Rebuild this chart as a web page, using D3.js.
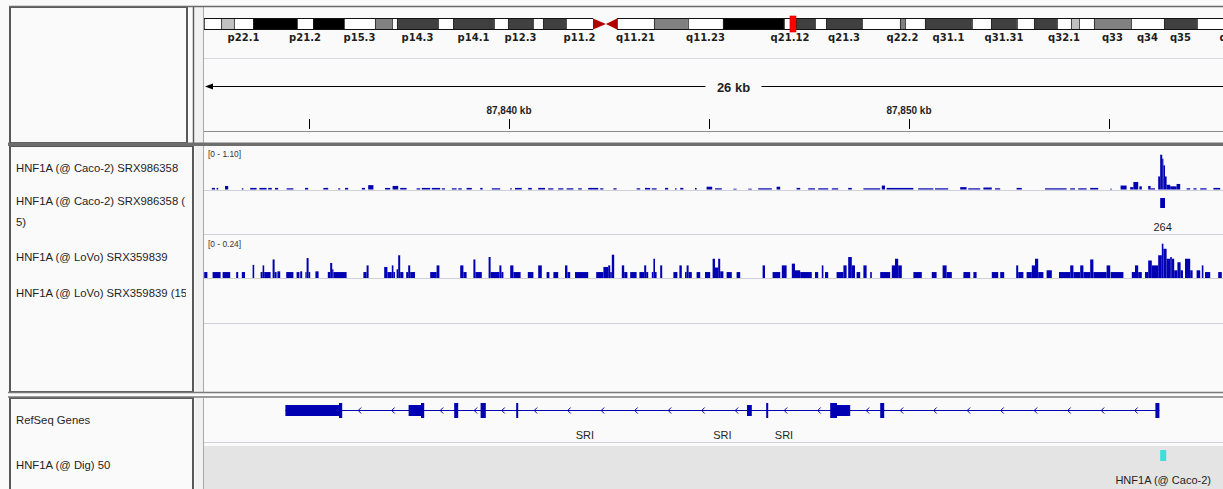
<!DOCTYPE html>
<html>
<head>
<meta charset="utf-8">
<title>SRI locus – HNF1A ChIP-seq</title>
<script src="https://cdn.jsdelivr.net/npm/d3@7/dist/d3.min.js"></script>
<style>
  html, body { margin: 0; padding: 0; background: #fafafa; }
  svg { display: block; }
  text { font-family: "Liberation Sans", Arial, Helvetica, sans-serif; fill: #1e1e1e; }
</style>
</head>
<body>
<svg id="igv" width="1223" height="489"></svg>
<script>
// ---------------------------------------------------------------- data
const chromosome = "chr7";
const chromLengthMb = 159.14;

// cytobands: name, start (Mb), end (Mb), stain
const cytobands = [
  ["p22.3", 0, 2.54, "gneg"], ["p22.2", 2.54, 4.47, "gpos25"], ["p22.1", 4.47, 7.31, "gneg"],
  ["p21.3", 7.31, 13.87, "gpos100"], ["p21.2", 13.87, 16.26, "gneg"], ["p21.1", 16.26, 20.88, "gpos100"],
  ["p15.3", 20.88, 25.50, "gneg"], ["p15.2", 25.50, 28.04, "gpos50"], ["p15.1", 28.04, 28.78, "gneg"],
  ["p14.3", 28.78, 34.90, "gpos75"], ["p14.2", 34.90, 37.14, "gneg"], ["p14.1", 37.14, 43.25, "gpos75"],
  ["p13", 43.25, 45.34, "gneg"], ["p12.3", 45.34, 49.07, "gpos75"], ["p12.2", 49.07, 50.56, "gneg"],
  ["p12.1", 50.56, 53.99, "gpos75"], ["p11.2", 53.99, 58.02, "gneg"], ["p11.1", 58.02, 59.95, "acen"],
  ["q11.1", 59.95, 61.60, "acen"], ["q11.21", 61.60, 67.11, "gneg"], ["q11.22", 67.11, 72.18, "gpos50"],
  ["q11.23", 72.18, 77.40, "gneg"], ["q21.11", 77.40, 86.50, "gpos100"], ["q21.12", 86.50, 88.29, "gneg"],
  ["q21.13", 88.29, 91.13, "gpos75"], ["q21.2", 91.13, 92.77, "gneg"], ["q21.3", 92.77, 98.14, "gpos75"],
  ["q22.1", 98.14, 103.80, "gneg"], ["q22.2", 103.80, 104.55, "gpos50"], ["q22.3", 104.55, 107.53, "gneg"],
  ["q31.1", 107.53, 114.54, "gpos75"], ["q31.2", 114.54, 117.38, "gneg"], ["q31.31", 117.38, 121.25, "gpos75"],
  ["q31.32", 121.25, 123.79, "gneg"], ["q31.33", 123.79, 127.22, "gpos75"], ["q32.1", 127.22, 129.31, "gneg"],
  ["q32.2", 129.31, 130.50, "gpos25"], ["q32.3", 130.50, 132.74, "gneg"], ["q33", 132.74, 138.26, "gpos50"],
  ["q34", 138.26, 143.18, "gneg"], ["q35", 143.18, 148.10, "gpos75"], ["q36.1", 148.10, 152.60, "gneg"],
  ["q36.2", 152.60, 155.10, "gpos25"], ["q36.3", 155.10, 159.14, "gneg"]
];
const bandLabels = ["p22.1", "p21.2", "p15.3", "p14.3", "p14.1", "p12.3", "p11.2", "q11.21", "q11.23",
  "q21.12", "q21.3", "q22.2", "q31.1", "q31.31", "q32.1", "q33", "q34", "q35", "q36.2"];

// visible locus (kb)
const viewStartKb = 87832.375;
const viewSpanKb = 26.675;
const rulerTicksKb = [87835, 87840, 87845, 87850, 87855];
const rulerLabelledKb = [87840, 87850];

// track names
const signalTrackNames = ["HNF1A (@ Caco-2) SRX986358", "HNF1A (@ LoVo) SRX359839"];
const peakTrackNames = [["HNF1A (@ Caco-2) SRX986358 (", "5)"], ["HNF1A (@ LoVo) SRX359839 (15)"]];
const signalMax = [1.10, 0.24];
const geneTrackNames = ["RefSeq Genes", "HNF1A (@ Dig) 50"];

// Caco-2 signal: start kb, end kb, value
const caco2Signal = [
  [87832.57, 87832.65, 0.04], [87832.69, 87832.73, 0.04], [87832.90, 87832.98, 0.09], [87833.32, 87833.36, 0.03],
  [87833.53, 87833.69, 0.04], [87833.76, 87833.94, 0.04], [87833.98, 87834.07, 0.04], [87834.15, 87834.23, 0.04],
  [87834.44, 87834.61, 0.03], [87834.90, 87834.98, 0.04], [87835.36, 87835.48, 0.04], [87835.73, 87835.78, 0.03],
  [87835.90, 87835.98, 0.04], [87836.32, 87836.40, 0.04], [87836.48, 87836.61, 0.11], [87836.90, 87837.03, 0.04],
  [87837.09, 87837.23, 0.09], [87837.28, 87837.44, 0.04], [87837.69, 87837.78, 0.03], [87837.82, 87838.03, 0.04],
  [87838.07, 87838.28, 0.04], [87838.32, 87838.40, 0.03], [87838.57, 87838.69, 0.03], [87838.73, 87838.82, 0.03],
  [87838.94, 87839.07, 0.04], [87839.28, 87839.34, 0.04], [87839.57, 87839.78, 0.03], [87840.03, 87840.07, 0.03],
  [87840.15, 87840.32, 0.04], [87840.48, 87840.57, 0.04], [87840.73, 87840.90, 0.04], [87840.98, 87841.11, 0.03],
  [87841.23, 87841.36, 0.03], [87841.44, 87841.61, 0.03], [87841.73, 87841.82, 0.03], [87841.98, 87842.23, 0.04],
  [87842.28, 87842.36, 0.03], [87842.61, 87842.69, 0.03], [87843.19, 87843.28, 0.03], [87843.40, 87843.53, 0.04],
  [87843.57, 87843.69, 0.03], [87843.90, 87843.98, 0.04], [87844.15, 87844.19, 0.03], [87844.28, 87844.36, 0.04],
  [87844.65, 87844.69, 0.04], [87844.94, 87845.08, 0.07], [87845.15, 87845.32, 0.03], [87845.61, 87845.69, 0.02],
  [87845.98, 87846.07, 0.02], [87846.23, 87846.57, 0.03], [87846.69, 87846.78, 0.07], [87847.19, 87847.28, 0.04],
  [87847.48, 87847.65, 0.03], [87847.73, 87847.98, 0.03], [87848.07, 87848.23, 0.03], [87848.48, 87848.57, 0.04],
  [87848.86, 87849.28, 0.03], [87849.32, 87849.40, 0.10], [87849.44, 87850.11, 0.04], [87850.23, 87850.61, 0.03],
  [87850.65, 87850.98, 0.03], [87851.28, 87851.44, 0.06], [87851.48, 87851.78, 0.03], [87851.86, 87852.07, 0.05],
  [87852.15, 87852.28, 0.03], [87852.69, 87852.82, 0.04], [87853.40, 87853.94, 0.03], [87854.03, 87854.15, 0.03],
  [87854.23, 87854.44, 0.03], [87854.53, 87854.73, 0.04], [87855.03, 87855.07, 0.02], [87855.29, 87855.44, 0.10],
  [87855.53, 87855.61, 0.06], [87855.61, 87855.73, 0.19], [87855.76, 87855.82, 0.08], [87855.98, 87856.04, 0.09],
  [87856.04, 87856.15, 0.03], [87856.23, 87856.28, 0.33], [87856.28, 87856.33, 0.88], [87856.33, 87856.36, 0.78],
  [87856.36, 87856.40, 0.61], [87856.40, 87856.44, 0.33], [87856.44, 87856.53, 0.12], [87856.53, 87856.69, 0.08],
  [87856.69, 87856.78, 0.14], [87856.94, 87857.03, 0.03], [87857.11, 87857.19, 0.03], [87857.28, 87857.44, 0.03],
  [87857.61, 87857.78, 0.04]
];

// LoVo signal: start kb, end kb, value
const lovoSignal = [
  [87832.38, 87832.46, 0.034], [87832.59, 87832.79, 0.034], [87832.84, 87833.03, 0.034], [87833.18, 87833.23, 0.034],
  [87833.32, 87833.40, 0.034], [87833.59, 87833.63, 0.075], [87833.79, 87833.84, 0.034], [87833.84, 87833.88, 0.072],
  [87833.88, 87834.04, 0.034], [87834.09, 87834.14, 0.106], [87834.14, 87834.19, 0.034], [87834.21, 87834.28, 0.038],
  [87834.43, 87834.61, 0.034], [87834.69, 87834.76, 0.034], [87834.78, 87834.83, 0.038], [87834.91, 87834.94, 0.034],
  [87834.94, 87834.99, 0.114], [87834.99, 87835.03, 0.034], [87835.16, 87835.24, 0.038], [87835.47, 87835.53, 0.034],
  [87835.53, 87835.58, 0.086], [87835.58, 87835.61, 0.050], [87835.61, 87835.94, 0.034], [87836.36, 87836.44, 0.034],
  [87836.44, 87836.49, 0.072], [87836.88, 87836.96, 0.063], [87836.96, 87837.07, 0.034], [87837.07, 87837.11, 0.072],
  [87837.11, 87837.15, 0.034], [87837.19, 87837.23, 0.050], [87837.23, 87837.28, 0.130], [87837.28, 87837.36, 0.034],
  [87837.43, 87837.48, 0.034], [87837.48, 87837.53, 0.072], [87837.53, 87837.65, 0.034], [87838.03, 87838.19, 0.034],
  [87838.19, 87838.26, 0.072], [87838.78, 87838.86, 0.072], [87838.86, 87838.94, 0.034], [87839.11, 87839.16, 0.106],
  [87839.16, 87839.32, 0.034], [87839.49, 87839.54, 0.120], [87839.54, 87839.76, 0.034], [87839.76, 87839.81, 0.072],
  [87839.81, 87839.86, 0.034], [87840.03, 87840.11, 0.072], [87840.11, 87840.29, 0.034], [87840.47, 87840.61, 0.034],
  [87840.73, 87840.82, 0.072], [87840.94, 87841.01, 0.034], [87841.11, 87841.23, 0.034], [87841.40, 87841.46, 0.072],
  [87841.46, 87841.53, 0.034], [87841.65, 87841.98, 0.034], [87842.18, 87842.36, 0.034], [87842.36, 87842.48, 0.063],
  [87842.48, 87842.53, 0.072], [87842.53, 87842.57, 0.034], [87842.57, 87842.63, 0.133], [87842.82, 87842.88, 0.072],
  [87842.88, 87842.96, 0.034], [87843.03, 87843.19, 0.034], [87843.26, 87843.38, 0.034], [87843.38, 87843.43, 0.072],
  [87843.43, 87843.48, 0.034], [87843.57, 87843.61, 0.034], [87843.61, 87843.65, 0.110], [87843.65, 87843.69, 0.034],
  [87843.78, 87843.83, 0.072], [87844.11, 87844.21, 0.034], [87844.26, 87844.32, 0.072], [87844.40, 87844.44, 0.034],
  [87844.44, 87844.49, 0.072], [87844.49, 87844.57, 0.034], [87844.69, 87844.78, 0.034], [87844.90, 87845.03, 0.034],
  [87845.09, 87845.15, 0.110], [87845.15, 87845.23, 0.060], [87845.23, 87845.28, 0.110], [87845.28, 87845.36, 0.038],
  [87845.44, 87845.57, 0.034], [87845.69, 87845.78, 0.034], [87846.34, 87846.40, 0.072], [87846.59, 87846.78, 0.034],
  [87846.82, 87846.94, 0.072], [87847.07, 87847.15, 0.082], [87847.15, 87847.28, 0.044], [87847.28, 87847.57, 0.034],
  [87847.65, 87847.73, 0.034], [87847.82, 87847.86, 0.072], [87847.90, 87847.98, 0.034], [87848.19, 87848.36, 0.034],
  [87848.36, 87848.44, 0.072], [87848.48, 87848.57, 0.120], [87848.57, 87848.65, 0.072], [87848.69, 87848.78, 0.034],
  [87848.86, 87848.94, 0.072], [87849.03, 87849.07, 0.034], [87849.28, 87849.53, 0.034], [87849.57, 87849.65, 0.072],
  [87849.65, 87849.73, 0.110], [87849.73, 87849.82, 0.072], [87850.11, 87850.32, 0.034], [87850.57, 87850.69, 0.034],
  [87850.84, 87850.94, 0.072], [87850.94, 87851.07, 0.034], [87851.36, 87851.53, 0.034], [87851.61, 87851.69, 0.034],
  [87852.07, 87852.23, 0.034], [87852.28, 87852.38, 0.034], [87852.68, 87852.73, 0.072], [87852.73, 87852.86, 0.034],
  [87852.94, 87853.07, 0.034], [87853.07, 87853.15, 0.072], [87853.15, 87853.23, 0.110], [87853.23, 87853.36, 0.034],
  [87853.44, 87853.57, 0.044], [87853.75, 87854.03, 0.034], [87854.03, 87854.11, 0.072], [87854.11, 87854.28, 0.034],
  [87854.28, 87854.36, 0.072], [87854.36, 87854.53, 0.034], [87854.53, 87854.61, 0.106], [87854.61, 87854.94, 0.034],
  [87854.94, 87855.03, 0.072], [87855.04, 87855.36, 0.034], [87855.57, 87855.65, 0.034], [87855.65, 87855.73, 0.072],
  [87855.73, 87855.82, 0.034], [87855.90, 87855.98, 0.034], [87855.98, 87856.07, 0.100], [87856.07, 87856.23, 0.072],
  [87856.23, 87856.32, 0.130], [87856.32, 87856.36, 0.196], [87856.36, 87856.44, 0.167], [87856.44, 87856.53, 0.110],
  [87856.53, 87856.57, 0.120], [87856.57, 87856.63, 0.110], [87856.63, 87856.71, 0.044], [87856.71, 87856.79, 0.090],
  [87856.79, 87856.85, 0.044], [87856.90, 87857.03, 0.110], [87857.03, 87857.09, 0.044], [87857.19, 87857.28, 0.044],
  [87857.32, 87857.36, 0.072], [87857.40, 87857.53, 0.034], [87857.73, 87857.82, 0.034]
];

// called peaks: start kb, end kb, score
const caco2Peaks = [[87856.28, 87856.40, 264]];

// RefSeq SRI (minus strand): transcripts and exon blocks
const sriName = "SRI";
const sriTranscripts = [[87834.41, 87856.26], [87834.41, 87849.38], [87837.49, 87856.26]];
const sriExons = [
  [87834.41, 87835.75, "utr"], [87835.75, 87835.83, "cds"], [87837.49, 87837.80, "utr"], [87837.80, 87837.88, "cds"],
  [87838.63, 87838.73, "cds"], [87839.29, 87839.42, "cds"], [87840.18, 87840.23, "cds"], [87845.95, 87846.07, "utr"],
  [87846.43, 87846.48, "cds"], [87848.03, 87848.20, "cds"], [87848.20, 87848.53, "utr"], [87849.28, 87849.38, "cds"],
  [87856.16, 87856.26, "cds"]
];

// HNF1A binding sites (Dig): start kb, end kb, name
const digSites = [[87856.28, 87856.43, "HNF1A (@ Caco-2)"]];

// ---------------------------------------------------------------- layout
const svg = d3.select("#igv");
const DATA_L = 204, DATA_W = 1067;
const BORDER = "#585858";
const BLUE = "#0000b2";

const xChrom = d3.scaleLinear().domain([0, chromLengthMb]).range([DATA_L, DATA_L + DATA_W]);
const xKb = d3.scaleLinear().domain([viewStartKb, viewStartKb + viewSpanKb]).range([DATA_L, DATA_L + DATA_W]);

const defs = svg.append("defs");
defs.append("clipPath").attr("id", "nameClip")
  .append("rect").attr("x", 11).attr("y", 0).attr("width", 175).attr("height", 489);
defs.append("clipPath").attr("id", "dataClip")
  .append("rect").attr("x", DATA_L).attr("y", 0).attr("width", DATA_W).attr("height", 489);

// ---------------------------------------------------------------- panel frames
function panel(y0, y1, nameRight) {
  const g = svg.append("g");
  g.append("rect").attr("x", DATA_L).attr("y", y0).attr("width", 1223 - DATA_L).attr("height", y1 - y0)
    .attr("fill", "#fafafa");
  g.append("rect").attr("x", 195).attr("y", y0).attr("width", 8).attr("height", y1 - y0)
    .attr("fill", "#f1f1f1");
  g.append("line").attr("x1", 203.5).attr("x2", 203.5).attr("y1", y0).attr("y2", y1)
    .attr("stroke", "#a8a8a8");
  g.append("rect").attr("x", 10).attr("y", y0).attr("width", nameRight - 10).attr("height", y1 - y0)
    .attr("fill", "#fafafa").attr("stroke", BORDER).attr("stroke-width", 2);
  return g;
}

// header
const header = panel(7, 143, 187);
header.append("line").attr("x1", 193.5).attr("x2", 193.5).attr("y1", 7).attr("y2", 143)
  .attr("stroke", BORDER).attr("stroke-width", 1.5);
svg.append("line").attr("x1", 9).attr("x2", 1223).attr("y1", 6.5).attr("y2", 6.5)
  .attr("stroke", "#6a6a6a").attr("stroke-width", 1.5);

// data track panel and gene panel
panel(146, 392, 193);
panel(398, 495, 193);

// heavy rule under the header, double rule above the gene panel
svg.append("rect").attr("x", 8).attr("y", 142.5).attr("width", 1215).attr("height", 3.5).attr("fill", "#6e6e6e");
svg.append("line").attr("x1", 8).attr("x2", 1223).attr("y1", 392.5).attr("y2", 392.5)
  .attr("stroke", "#7a7a7a").attr("stroke-width", 1.5);
svg.append("line").attr("x1", 8).attr("x2", 1223).attr("y1", 397).attr("y2", 397)
  .attr("stroke", "#7a7a7a").attr("stroke-width", 1.5);

// ---------------------------------------------------------------- ideogram
const ideo = svg.append("g").attr("clip-path", "url(#dataClip)");
const stainFill = { gneg: "#ffffff", gpos25: "#c0c0c0", gpos50: "#808080", gpos75: "#404040", gpos100: "#000000" };
const IDEO_T = 18.5, IDEO_B = 29.5, IDEO_M = (IDEO_T + IDEO_B) / 2;

const solidBands = cytobands.filter(b => b[3] !== "acen");
ideo.selectAll("rect.band").data(solidBands).join("rect").attr("class", "band")
  .attr("x", d => xChrom(d[1])).attr("y", IDEO_T)
  .attr("width", d => xChrom(d[2]) - xChrom(d[1])).attr("height", IDEO_B - IDEO_T)
  .attr("fill", d => stainFill[d[3]]);
ideo.selectAll("line.edge").data(solidBands).join("line").attr("class", "edge")
  .attr("x1", d => xChrom(d[1]) + 0.5).attr("x2", d => xChrom(d[1]) + 0.5)
  .attr("y1", IDEO_T).attr("y2", IDEO_B).attr("stroke", "#222").attr("stroke-width", 0.8);

const acen = cytobands.filter(b => b[3] === "acen");
ideo.selectAll("path.acen").data(acen).join("path").attr("class", "acen")
  .attr("d", d => d[0].startsWith("p")
    ? `M${xChrom(d[1])},${IDEO_T} L${xChrom(d[2])},${IDEO_M} L${xChrom(d[1])},${IDEO_B} Z`
    : `M${xChrom(d[2])},${IDEO_T} L${xChrom(d[1])},${IDEO_M} L${xChrom(d[2])},${IDEO_B} Z`)
  .attr("fill", "#b00000");

// chromosome outline (open at the centromere)
const cenL = xChrom(acen[0][1]), cenR = xChrom(acen[1][2]);
[[xChrom(0), cenL], [cenR, xChrom(chromLengthMb)]].forEach(([a, b]) => {
  [IDEO_T, IDEO_B].forEach(y => ideo.append("line").attr("x1", a).attr("x2", b).attr("y1", y).attr("y2", y)
    .attr("stroke", "#111").attr("stroke-width", 1));
});

// current locus marker
const viewCentreMb = (viewStartKb + viewSpanKb / 2) / 1000;
ideo.append("rect").attr("x", xChrom(viewCentreMb) - 3).attr("y", 16).attr("width", 6).attr("height", 16)
  .attr("fill", "#ff0000").attr("stroke", "#d00000").attr("stroke-width", 0.6);

ideo.selectAll("text.bandLabel").data(cytobands.filter(b => bandLabels.includes(b[0]))).join("text")
  .attr("class", "bandLabel")
  .attr("x", d => xChrom((d[1] + d[2]) / 2)).attr("y", 41)
  .attr("text-anchor", "middle")
  .style("font-family", "'DejaVu Sans', Verdana, sans-serif").style("font-weight", "bold").style("font-size", "10px")
  .text(d => d[0]);

// ---------------------------------------------------------------- ruler
const ruler = svg.append("g").attr("clip-path", "url(#dataClip)");
ruler.append("line").attr("x1", DATA_L).attr("x2", 1223).attr("y1", 58.5).attr("y2", 58.5)
  .attr("stroke", "#d8d8de");
ruler.append("line").attr("x1", DATA_L).attr("x2", 1223).attr("y1", 131.5).attr("y2", 131.5)
  .attr("stroke", "#8c8c8c");

const spanLabel = `${Math.floor(viewSpanKb)} kb`;
const midX = DATA_L + DATA_W / 2;
const ARROW_Y = 86.5;
ruler.append("line").attr("x1", DATA_L + 6).attr("x2", midX - 32).attr("y1", ARROW_Y).attr("y2", ARROW_Y)
  .attr("stroke", "#000");
ruler.append("line").attr("x1", midX + 24).attr("x2", DATA_L + DATA_W - 6).attr("y1", ARROW_Y).attr("y2", ARROW_Y)
  .attr("stroke", "#000");
ruler.append("path").attr("d", `M${DATA_L + 1},${ARROW_Y} L${DATA_L + 9},${ARROW_Y - 3} L${DATA_L + 9},${ARROW_Y + 3} Z`)
  .attr("fill", "#000");
ruler.append("text").attr("x", midX - 4).attr("y", 92).attr("text-anchor", "middle")
  .style("font-weight", "bold").style("font-size", "13px").text(spanLabel);

ruler.selectAll("line.tick").data(rulerTicksKb).join("line").attr("class", "tick")
  .attr("x1", d => Math.round(xKb(d)) + 0.5).attr("x2", d => Math.round(xKb(d)) + 0.5)
  .attr("y1", 119).attr("y2", 129).attr("stroke", "#000");
ruler.selectAll("text.tickLabel").data(rulerLabelledKb).join("text").attr("class", "tickLabel")
  .attr("x", d => xKb(d)).attr("y", 114).attr("text-anchor", "middle")
  .style("font-weight", "bold").style("font-size", "10px")
  .text(d => `${d3.format(",")(d)} kb`);

// ---------------------------------------------------------------- track names
const names = svg.append("g").attr("clip-path", "url(#nameClip)")
  .style("font-size", "11.3px");
const nameRows = [
  [signalTrackNames[0], 172], [peakTrackNames[0][0], 205], [peakTrackNames[0][1], 226],
  [signalTrackNames[1], 261], [peakTrackNames[1][0], 297],
  [geneTrackNames[0], 424], [geneTrackNames[1], 469]
];
names.selectAll("text").data(nameRows).join("text")
  .attr("x", 16).attr("y", d => d[1]).text(d => d[0]);

// ---------------------------------------------------------------- signal tracks
const tracks = svg.append("g").attr("clip-path", "url(#dataClip)");
[190.5, 234.5, 278.5, 323.5, 442.5].forEach(y =>
  tracks.append("line").attr("x1", DATA_L).attr("x2", 1223).attr("y1", y).attr("y2", y)
    .attr("stroke", "#cfd0d8"));

function signalTrack(data, max, top, base, labelY) {
  const y = d3.scaleLinear().domain([0, max]).range([base, top]);
  tracks.append("g").selectAll("rect").data(data).join("rect")
    .attr("x", d => xKb(d[0]))
    .attr("width", d => Math.max(1, xKb(d[1]) - xKb(d[0])))
    .attr("y", d => y(d[2]))
    .attr("height", d => base - y(d[2]))
    .attr("fill", BLUE);
  tracks.append("text").attr("x", 208).attr("y", labelY)
    .style("font-size", "8.4px").style("fill", "#333")
    .text(`[0 - ${d3.format(".2f")(max)}]`);
}
signalTrack(caco2Signal, signalMax[0], 146, 189.5, 156.5);
signalTrack(lovoSignal, signalMax[1], 236, 278, 246.5);

// peak calls
const peakG = tracks.append("g");
peakG.selectAll("rect").data(caco2Peaks).join("rect")
  .attr("x", d => xKb(d[0])).attr("width", d => xKb(d[1]) - xKb(d[0]))
  .attr("y", 198).attr("height", 10).attr("fill", BLUE);
peakG.selectAll("text").data(caco2Peaks).join("text")
  .attr("x", d => xKb((d[0] + d[1]) / 2)).attr("y", 231).attr("text-anchor", "middle")
  .style("font-size", "11px").text(d => d[2]);

// ---------------------------------------------------------------- gene track
const gene = tracks.append("g");
const GENE_Y = 410.5;
const geneStart = d3.min(sriTranscripts, d => d[0]);
const geneEnd = d3.max(sriTranscripts, d => d[1]);
gene.append("line").attr("x1", xKb(geneStart)).attr("x2", xKb(geneEnd))
  .attr("y1", GENE_Y).attr("y2", GENE_Y).attr("stroke", BLUE);

// strand chevrons in the introns
const merged = [];
sriExons.map(e => [e[0], e[1]]).sort((a, b) => a[0] - b[0]).forEach(e => {
  const last = merged[merged.length - 1];
  if (last && e[0] <= last[1] + 0.001) last[1] = Math.max(last[1], e[1]);
  else merged.push([e[0], e[1]]);
});
const chevrons = [];
for (let i = 1; i < merged.length; i++) {
  const a = xKb(merged[i - 1][1]), b = xKb(merged[i][0]);
  if (b - a < 10) continue;
  for (let x = a + 17; x < b - 5; x += 33.5) chevrons.push(x);
}
gene.selectAll("path.chev").data(chevrons).join("path").attr("class", "chev")
  .attr("d", x => `M${x + 2},${GENE_Y - 3} L${x - 1},${GENE_Y} L${x + 2},${GENE_Y + 3}`)
  .attr("fill", "none").attr("stroke", BLUE).attr("stroke-width", 1);

gene.selectAll("rect.exon").data(sriExons).join("rect").attr("class", "exon")
  .attr("x", d => xKb(d[0])).attr("width", d => Math.max(2, xKb(d[1]) - xKb(d[0])))
  .attr("y", d => d[2] === "cds" ? GENE_Y - 7.5 : GENE_Y - 5.5)
  .attr("height", d => d[2] === "cds" ? 15 : 11)
  .attr("fill", BLUE);

gene.selectAll("text.gname").data(sriTranscripts).join("text").attr("class", "gname")
  .attr("x", d => xKb((d[0] + d[1]) / 2)).attr("y", 439).attr("text-anchor", "middle")
  .style("font-size", "11px").text(sriName);

// ---------------------------------------------------------------- Dig binding sites
const dig = tracks.append("g");
dig.append("rect").attr("x", DATA_L).attr("y", 446).attr("width", 1223 - DATA_L).attr("height", 45)
  .attr("fill", "#e4e4e4");
dig.selectAll("rect.site").data(digSites).join("rect").attr("class", "site")
  .attr("x", d => xKb(d[0])).attr("width", d => xKb(d[1]) - xKb(d[0]))
  .attr("y", 450).attr("height", 11).attr("fill", "#3de0d6");
dig.selectAll("text").data(digSites).join("text")
  .attr("x", d => xKb((d[0] + d[1]) / 2)).attr("y", 484).attr("text-anchor", "middle")
  .style("font-size", "11px").text(d => d[2]);
</script>
</body>
</html>
